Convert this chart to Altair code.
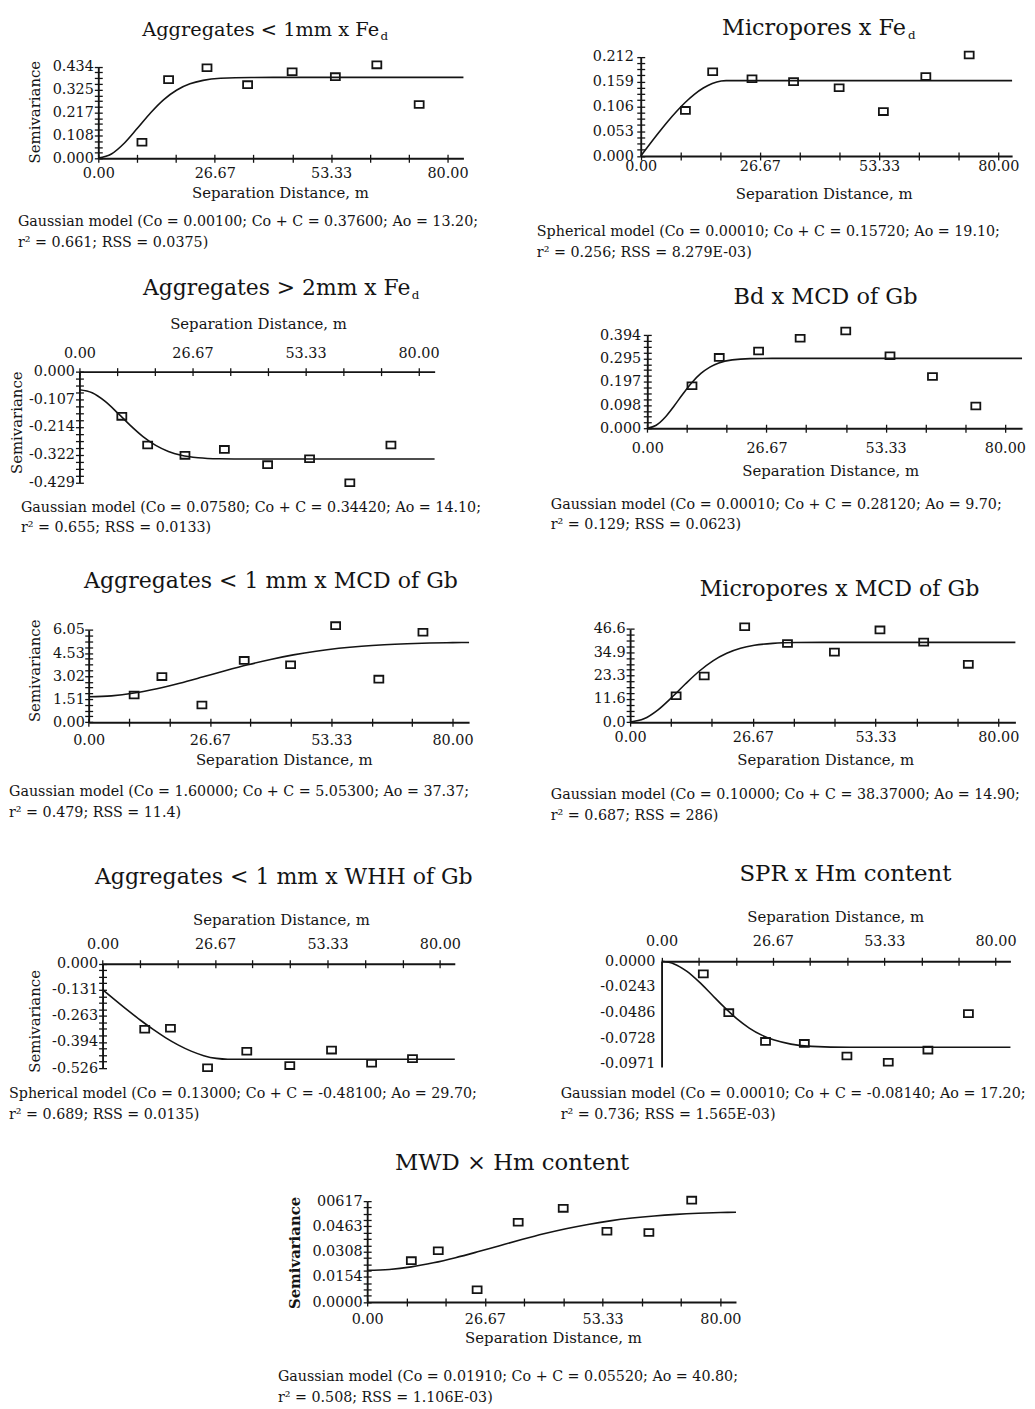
import altair as alt
import pandas as pd

FONT = "DejaVu Serif"
INK = "#141414"
W, H = 1027, 1401
PAGE = 8

# ---------------- data ----------------
LAGS = [10.0, 16.1, 24.9, 34.2, 44.4, 54.3, 63.8, 73.5]

X_TICKS = [80 * k / 9 for k in range(10)]
X_TICK_LABELS = ["0.00", "", "", "26.67", "", "", "53.33", "", "", "80.00"]

P1_SV = [0.076, 0.373, 0.429, 0.349, 0.410, 0.387, 0.443, 0.255]
P1_FIT_H = [0, 3, 6, 9, 12, 15, 18, 21, 24, 28, 35, 45, 83.64]
P1_FIT = [0.001, 0.0203, 0.0724, 0.1432, 0.2161, 0.2784, 0.3240, 0.3531, 0.3694, 0.3792, 0.3832, 0.3835, 0.3835]
P1_YV = [0.0, 0.108, 0.217, 0.325, 0.434]
P1_YL = ["0.000", "0.108", "0.217", "0.325", "0.434"]

P2_SV = [0.0975, 0.180, 0.165, 0.159, 0.146, 0.095, 0.170, 0.216]
P2_FIT_H = [0, 2, 4, 6, 8, 10, 12, 14, 16, 18, 19.1, 83.1]
P2_FIT = [0.0001, 0.0253, 0.0499, 0.0735, 0.0953, 0.1150, 0.1319, 0.1454, 0.1551, 0.1603, 0.1611, 0.1611]
P2_YV = [0.0, 0.053, 0.106, 0.159, 0.212]
P2_YL = ["0.000", "0.053", "0.106", "0.159", "0.212"]

P3_SV = [-0.173, -0.284, -0.324, -0.301, -0.360, -0.337, -0.430, -0.284]
P3_FIT_H = [0, 3, 6, 9, 12, 15, 18, 21, 24, 28, 33, 40, 83.8]
P3_FIT = [-0.0698, -0.0817, -0.1142, -0.1596, -0.2081, -0.2516, -0.2856, -0.3090, -0.3234, -0.3330, -0.3371, -0.3382, -0.3382]
P3_YV = [-0.429, -0.322, -0.214, -0.107, 0.0]
P3_YL = ["-0.429", "-0.322", "-0.214", "-0.107", "0.000"]

P4_SV = [0.180, 0.300, 0.327, 0.381, 0.412, 0.307, 0.219, 0.094]
P4_FIT_H = [0, 2, 4, 6, 8, 10, 12, 14, 16, 19, 23, 30, 83.84]
P4_FIT = [0.0001, 0.0124, 0.0464, 0.0942, 0.1461, 0.1938, 0.2320, 0.2591, 0.2765, 0.2896, 0.2949, 0.2960, 0.2960]
P4_YV = [0.0, 0.098, 0.197, 0.295, 0.394]
P4_YL = ["0.000", "0.098", "0.197", "0.295", "0.394"]

P5_SV = [1.78, 2.99, 1.13, 4.05, 3.77, 6.33, 2.82, 5.90]
P5_FIT_H = [0, 5, 10, 15, 20, 25, 30, 35, 40, 45, 50, 55, 60, 65, 70, 75, 80, 83.64]
P5_FIT = [1.664, 1.727, 1.913, 2.199, 2.558, 2.959, 3.371, 3.762, 4.113, 4.413, 4.656, 4.843, 4.983, 5.081, 5.148, 5.192, 5.219, 5.230]
P5_YV = [0.0, 1.51, 3.02, 4.53, 6.05]
P5_YL = ["0.00", "1.51", "3.02", "4.53", "6.05"]

P6_SV = [13.2, 23.1, 47.7, 39.3, 35.0, 46.1, 40.0, 28.9]
P6_FIT_H = [0, 3, 6, 9, 12, 15, 18, 21, 24, 27, 31, 36, 45, 83.73]
P6_FIT = [0.104, 1.68, 6.06, 12.27, 19.09, 25.46, 30.66, 34.44, 36.93, 38.41, 39.38, 39.79, 39.90, 39.90]
P6_YV = [0.0, 11.6, 23.3, 34.9, 46.6]
P6_YL = ["0.0", "11.6", "23.3", "34.9", "46.6"]

P7_SV = [-0.330, -0.325, -0.524, -0.441, -0.513, -0.435, -0.501, -0.478]
P7_FIT_H = [0, 3, 6, 9, 12, 15, 18, 21, 24, 27, 29.7, 83.53]
P7_FIT = [-0.130, -0.183, -0.2349, -0.2847, -0.3311, -0.3733, -0.4100, -0.4402, -0.4629, -0.4768, -0.481, -0.481]
P7_YV = [-0.526, -0.394, -0.263, -0.131, 0.0]
P7_YL = ["-0.526", "-0.394", "-0.263", "-0.131", "0.000"]

P8_SV = [-0.0119, -0.0486, -0.0758, -0.0777, -0.0896, -0.0955, -0.0840, -0.0495]
P8_FIT_H = [0, 3, 6, 9, 12, 15, 18, 21, 24, 27, 31, 36, 45, 83.57]
P8_FIT = [0.0, -0.00245, -0.00934, -0.01952, -0.03141, -0.04341, -0.05424, -0.06315, -0.06987, -0.07456, -0.07834, -0.08048, -0.0814, -0.0814]
P8_YV = [-0.0971, -0.0728, -0.0486, -0.0243, 0.0]
P8_YL = ["-0.0971", "-0.0728", "-0.0486", "-0.0243", "0.0000"]

P9_SV = [0.0253, 0.0314, 0.0075, 0.0488, 0.0573, 0.0433, 0.0425, 0.0623]
P9_FIT_H = [0, 5, 10, 15, 20, 25, 30, 35, 40, 45, 50, 55, 60, 65, 70, 75, 80, 83.53]
P9_FIT = [0.0194, 0.01994, 0.02150, 0.02397, 0.02711, 0.03070, 0.03448, 0.03820, 0.04170, 0.04480, 0.04746, 0.04964, 0.05135, 0.05265, 0.05360, 0.05427, 0.05473, 0.05495]
P9_YV = [0.0, 0.0154, 0.0308, 0.0463, 0.0617]
P9_YL = ["0.0000", "0.0154", "0.0308", "0.0463", "00617"]

TITLES = {
    1: "Aggregates < 1mm x Fe",
    2: "Micropores  x Fe",
    3: "Aggregates > 2mm x Fe",
    4: "Bd x MCD of Gb",
    5: "Aggregates < 1 mm x MCD of Gb",
    6: "Micropores x MCD of Gb",
    7: "Aggregates < 1 mm x WHH of Gb",
    8: "SPR x Hm content",
    9: "MWD \u00d7 Hm content",
}
NOTES = {
    1: ["Gaussian model (Co = 0.00100; Co + C =  0.37600; Ao = 13.20;", "r\u00b2 = 0.661; RSS = 0.0375)"],
    2: ["Spherical model (Co = 0.00010; Co + C =  0.15720; Ao = 19.10;", "r\u00b2 = 0.256; RSS = 8.279E-03)"],
    3: ["Gaussian model (Co = 0.07580; Co + C =  0.34420; Ao = 14.10;", "r\u00b2 = 0.655; RSS = 0.0133)"],
    4: ["Gaussian model (Co = 0.00010; Co + C =  0.28120; Ao = 9.70;", "r\u00b2 = 0.129; RSS = 0.0623)"],
    5: ["Gaussian model (Co = 1.60000; Co + C =  5.05300; Ao = 37.37;", "r\u00b2 = 0.479; RSS = 11.4)"],
    6: ["Gaussian model (Co = 0.10000; Co + C = 38.37000; Ao = 14.90;", "r\u00b2 = 0.687; RSS = 286)"],
    7: ["Spherical model (Co = 0.13000; Co + C = -0.48100; Ao = 29.70;", "r\u00b2 = 0.689; RSS = 0.0135)"],
    8: ["Gaussian model (Co = 0.00010; Co + C = -0.08140; Ao = 17.20;", "r\u00b2 = 0.736; RSS = 1.565E-03)"],
    9: ["Gaussian model (Co = 0.01910; Co + C = 0.05520; Ao = 40.80;", "r\u00b2 = 0.508; RSS = 1.106E-03)"],
}
X_TITLE = "Separation Distance, m"
Y_TITLE = "Semivariance"

# ---------------- layout (page pixels) ----------------
SPECS = {
    1: dict(ax=99.0, x80=451.0, xend=467.0, ypx=(154.0, 61.7), xorient="bottom", xline=154.0,
            xlabpad=15.3, xtdy=39.3, xtcx=282.0, ylabgap=5.0, ytitle=(35.0, 107.0)),
    2: dict(ax=645.7, x80=1006.0, xend=1020.0, ypx=(151.7, 51.7), xorient="bottom", xline=151.7,
            xlabpad=11.0, xtdy=43.3, xtcx=830.0, ylabgap=7.4, ytitle=None),
    3: dict(ax=80.0, x80=421.7, xend=438.0, ypx=(480.7, 369.0), xorient="top", xline=369.0,
            xlabpad=10.0, xtdy=-43.3, xtcx=260.0, ylabgap=5.0, ytitle=(16.7, 420.0)),
    4: dict(ax=652.3, x80=1012.7, xend=1030.0, ypx=(426.0, 332.3), xorient="bottom", xline=426.0,
            xlabpad=20.0, xtdy=48.0, xtcx=836.7, ylabgap=6.6, ytitle=None),
    5: dict(ax=89.3, x80=456.0, xend=472.7, ypx=(722.3, 629.3), xorient="bottom", xline=722.3,
            xlabpad=18.7, xtdy=42.7, xtcx=286.0, ylabgap=4.3, ytitle=(35.0, 670.0)),
    6: dict(ax=635.0, x80=1006.0, xend=1023.3, ypx=(722.3, 628.3), xorient="bottom", xline=722.3,
            xlabpad=15.4, xtdy=42.7, xtcx=831.7, ylabgap=5.0, ytitle=None),
    7: dict(ax=103.3, x80=443.3, xend=458.3, ypx=(1071.0, 965.7), xorient="top", xline=965.7,
            xlabpad=11.7, xtdy=-40.0, xtcx=283.0, ylabgap=5.0, ytitle=(35.0, 1023.3)),
    8: dict(ax=666.7, x80=1003.3, xend=1018.3, ypx=(1069.8, 963.3), xorient="top", xline=963.3,
            xlabpad=12.0, xtdy=-40.6, xtcx=841.7, ylabgap=6.7, ytitle=None, ydom=(-0.1, 0.0),
            yticks=False),
    9: dict(ax=370.0, x80=726.0, xend=741.7, ypx=(1306.7, 1205.0), xorient="bottom", xline=1306.7,
            xlabpad=17.6, xtdy=40.6, xtcx=557.3, ylabgap=5.0, ytitle=(296.7, 1256.7), ybold=True),
}
TITLE_POS = {  # (x, baseline, align, font size)
    1: (382.0, 31.0, "right", 19.5), 2: (913.0, 29.5, "right", 22.5), 3: (413.5, 292.0, "right", 22.0),
    4: (832.0, 301.0, "center", 22.6), 5: (273.0, 587.0, "center", 22.2), 6: (846.0, 595.0, "center", 22.3),
    7: (286.0, 885.0, "center", 22.2), 8: (852.0, 882.0, "center", 23.0), 9: (516.0, 1174.0, "center", 22.9),
}
SUB_POS = {1: (383.5, 35.0), 2: (915.0, 33.5), 3: (415.0, 296.0)}
NOTE_POS = {
    1: (18.0, 222.0), 2: (541.0, 232.0), 3: (21.0, 510.0), 4: (555.0, 507.0),
    5: (9.0, 797.0), 6: (555.0, 800.0), 7: (9.0, 1101.0), 8: (565.0, 1101.0), 9: (280.0, 1386.0),
}
NOTE_SIZE = 14.4

PANELS = {
    1: (P1_SV, P1_FIT_H, P1_FIT, P1_YV, P1_YL),
    2: (P2_SV, P2_FIT_H, P2_FIT, P2_YV, P2_YL),
    3: (P3_SV, P3_FIT_H, P3_FIT, P3_YV, P3_YL),
    4: (P4_SV, P4_FIT_H, P4_FIT, P4_YV, P4_YL),
    5: (P5_SV, P5_FIT_H, P5_FIT, P5_YV, P5_YL),
    6: (P6_SV, P6_FIT_H, P6_FIT, P6_YV, P6_YL),
    7: (P7_SV, P7_FIT_H, P7_FIT, P7_YV, P7_YL),
    8: (P8_SV, P8_FIT_H, P8_FIT, P8_YV, P8_YL),
    9: (P9_SV, P9_FIT_H, P9_FIT, P9_YV, P9_YL),
}


def lab_expr(values, labels):
    e = "''"
    for v, s in zip(reversed(values), reversed(labels)):
        if s:
            e = f"datum.value === {float(v)!r} ? '{s}' : {e}"
    return e


def quarter_ticks(vals):
    out = []
    for a, b in zip(vals[:-1], vals[1:]):
        for j in range(4):
            out.append(a + (b - a) * j / 4)
    out.append(vals[-1])
    return out


AX_COMMON = dict(grid=False, domainColor=INK, tickColor=INK, labelColor=INK, titleColor=INK,
                 labelFont=FONT, titleFont=FONT, labelFontSize=14.5, titleFontSize=15,
                 tickWidth=1.3, domainWidth=1.9)
SQUARE = "M-1,-0.76L1,-0.76L1,0.76L-1,0.76Z"


def panel(pid):
    sv, fh, fv, yv, yl = PANELS[pid]
    L = SPECS[pid]
    x0 = L["ax"]
    xmax = 80 * (L["xend"] - x0) / (L["x80"] - x0)
    ydom = list(L.get("ydom", (yv[0], yv[-1])))
    xscale = alt.Scale(domain=[0, xmax], range=[x0 - PAGE, L["xend"] - PAGE], nice=False, zero=False)
    yscale = alt.Scale(domain=ydom, range=[L["ypx"][0] - PAGE, L["ypx"][1] - PAGE], nice=False, zero=False)
    xl = L["xline"] - PAGE
    if L["xorient"] == "top":
        x_off, x2_off, x2_orient = -xl, xl - H, "bottom"
    else:
        x_off, x2_off, x2_orient = xl - H, -xl, "top"
    has_ticks = L.get("yticks", True)
    yt = quarter_ticks(yv) if has_ticks else list(yv)

    xa = alt.Axis(orient=L["xorient"], offset=x_off, values=X_TICKS,
                  labelExpr=lab_expr(X_TICKS, X_TICK_LABELS), tickSize=4,
                  labelPadding=L["xlabpad"], labelBaseline="alphabetic", labelFlush=False,
                  labelOverlap=False, labelAngle=0, title=X_TITLE, titleX=L["xtcx"] - PAGE,
                  titleY=L["xtdy"], titleBaseline="alphabetic", titleAlign="center", titleAngle=0,
                  titleFontWeight="normal", **AX_COMMON)
    ts = 4 if has_ticks else 0
    yargs = dict(orient="left", offset=-(x0 - PAGE), values=yt, labelExpr=lab_expr(yv, yl),
                 ticks=has_ticks, tickSize=ts, labelPadding=L["ylabgap"] - ts, labelAlign="right",
                 labelBaseline="middle", labelFlush=False, labelOverlap=False, **AX_COMMON)
    if L["ytitle"]:
        cx, cy = L["ytitle"]
        yargs.update(title=Y_TITLE, titleX=cx - x0, titleY=cy - PAGE, titleAngle=270,
                     titleBaseline="middle", titleAlign="center",
                     titleFontWeight="bold" if L.get("ybold") else "normal")
    else:
        yargs.update(title=None)
    ya = alt.Axis(**yargs)

    xa2 = alt.Axis(orient=x2_orient, offset=x2_off, values=X_TICKS, labels=False, domain=False,
                   tickSize=4, tickWidth=1.3, tickColor=INK, grid=False, title=None)
    if has_ticks:
        ya2 = alt.Axis(orient="right", offset=(x0 - PAGE) - W, values=yt, labels=False, domain=False,
                       tickSize=4, tickWidth=1.3, tickColor=INK, grid=False, title=None)
    else:
        ya2 = None

    fit = pd.DataFrame({"h": fh, "sv": fv})
    pts = pd.DataFrame({"h": LAGS, "sv": sv})
    line = alt.Chart(fit).mark_line(color=INK, strokeWidth=1.6, interpolate="monotone").encode(
        x=alt.X("h:Q", scale=xscale, axis=xa2),
        y=alt.Y("sv:Q", scale=yscale, axis=ya2),
    )
    points = alt.Chart(pts).mark_point(shape=SQUARE, size=82, filled=False, stroke=INK,
                                       strokeWidth=1.8, opacity=1).encode(
        x=alt.X("h:Q", scale=xscale, axis=xa),
        y=alt.Y("sv:Q", scale=yscale, axis=ya),
    )
    return [line, points]


def text_layer(txt, x, y, size, align="left"):
    return alt.Chart(pd.DataFrame({"k": [0]})).mark_text(
        text=txt, font=FONT, fontSize=size, align=align, baseline="alphabetic",
        color=INK, lineHeight=21,
    ).encode(x=alt.value(x - PAGE), y=alt.value(y - PAGE))


layers = []
for pid in range(1, 10):
    layers += panel(pid)
    tx, ty, al, fs = TITLE_POS[pid]
    layers.append(text_layer(TITLES[pid], tx, ty, fs, al))
    if pid in SUB_POS:
        sx, sy = SUB_POS[pid]
        layers.append(text_layer("d", sx, sy, 12))
    nx, ny = NOTE_POS[pid]
    layers.append(text_layer(NOTES[pid], nx, ny, NOTE_SIZE))

chart = alt.layer(*layers).resolve_scale(x="independent", y="independent").properties(
    width=W, height=H, autosize=alt.AutoSizeParams(type="none"), padding=0,
    background="white",
).configure_view(strokeOpacity=0)

chart.save("out.html", embed_options={"renderer": "svg", "actions": False})
